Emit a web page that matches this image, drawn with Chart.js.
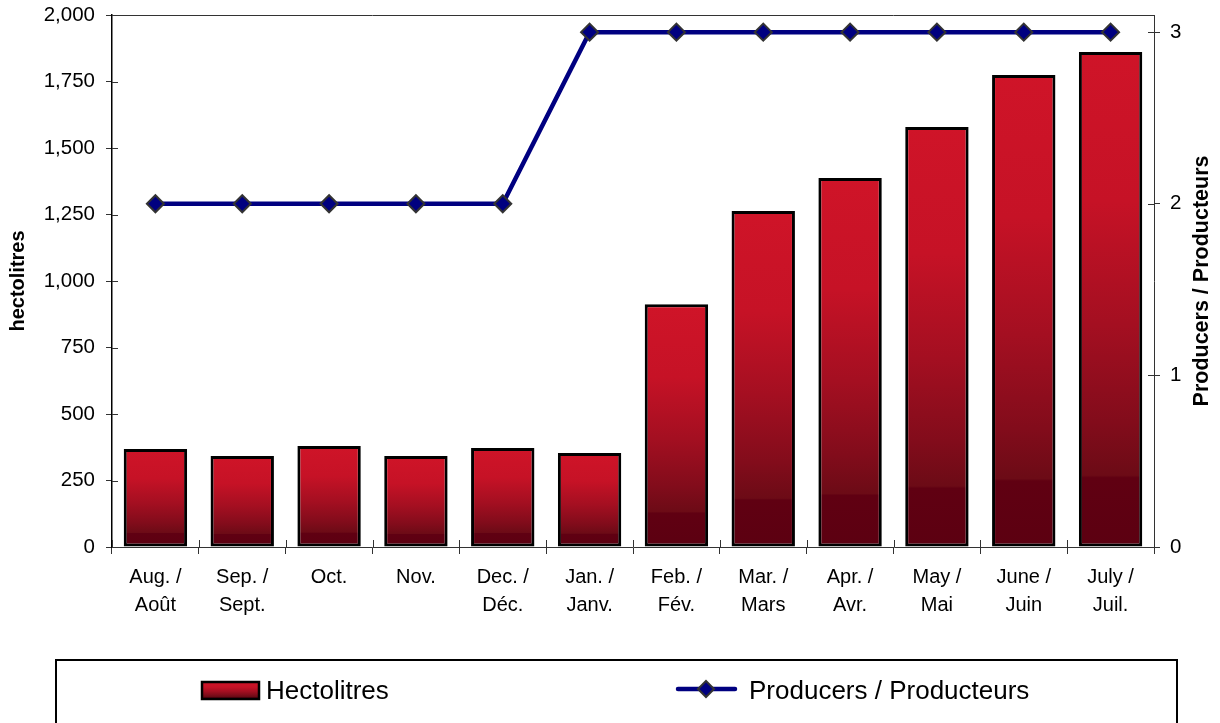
<!DOCTYPE html>
<html>
<head>
<meta charset="utf-8">
<script src="https://cdn.jsdelivr.net/npm/chart.js@4.4.1/dist/chart.umd.min.js"></script>
<style>
html, body { margin: 0; padding: 0; background: #fff; }
</style>
</head>
<body>
<canvas id="chart" width="1220" height="723"></canvas>
<script>
// data
var months = [["Aug. /", "Août"], ["Sep. /", "Sept."], ["Oct."], ["Nov."], ["Dec. /", "Déc."], ["Jan. /", "Janv."],
              ["Feb. /", "Fév."], ["Mar. /", "Mars"], ["Apr. /", "Avr."], ["May /", "Mai"], ["June /", "Juin"], ["July /", "Juil."]];
var hectolitres = [368, 342, 380, 342, 372, 353, 913, 1263, 1387, 1579, 1774, 1861];
var producers = [2, 2, 2, 2, 2, 3, 3, 3, 3, 3, 3, 3];
var hlTicks = [0, 250, 500, 750, 1000, 1250, 1500, 1750, 2000];
var prodTicks = [0, 1, 2, 3];

var FONT = '"Liberation Sans", Arial, sans-serif';

// excel-like red gradient, top bright to dark bottom
function redGradient(ctx, top, bottom) {
	var g = ctx.createLinearGradient(0, top, 0, bottom);
	g.addColorStop(0, '#CF1428');
	g.addColorStop(0.3, '#C61226');
	g.addColorStop(0.55, '#A40F21');
	g.addColorStop(0.75, '#820C1B');
	g.addColorStop(0.855, '#6C0B16');
	g.addColorStop(0.86, '#600012');
	g.addColorStop(1, '#5C0011');
	return g;
}

function barFill(context) {
	var chart = context.chart;
	var y = chart.scales.y;
	if (!chart.chartArea || !y || context.dataIndex === undefined) return '#C61226';
	var top = y.getPixelForValue(context.dataset.data[context.dataIndex]);
	var bottom = y.getPixelForValue(0);
	if (!isFinite(top) || bottom - top < 1) return '#C61226';
	return redGradient(chart.ctx, top, bottom);
}

function noPad(s) {
	s.paddingTop = 0; s.paddingBottom = 0; s.paddingLeft = 0; s.paddingRight = 0;
}

// tick stubs that cross the axis line, plus the top frame line
var frame = {
	id: 'frame',
	beforeDatasetsDraw: function(chart) {
		var ctx = chart.ctx, a = chart.chartArea;
		ctx.save();
		ctx.strokeStyle = '#333';
		ctx.lineWidth = 1;
		ctx.beginPath();
		ctx.moveTo(a.left, a.top + 0.5);
		ctx.lineTo(a.right, a.top + 0.5);
		chart.scales.y.ticks.forEach(function(t) {
			var p = Math.round(chart.scales.y.getPixelForValue(t.value)) + 0.5;
			ctx.moveTo(a.left, p); ctx.lineTo(a.left + 6, p);
		});
		chart.scales.y1.ticks.forEach(function(t) {
			var p = Math.round(chart.scales.y1.getPixelForValue(t.value)) + 0.5;
			ctx.moveTo(a.right - 6, p); ctx.lineTo(a.right, p);
		});
		var w = (a.right - a.left) / months.length;
		for (var i = 0; i <= months.length; i++) {
			var px = Math.round(a.left + i * w) + 0.5;
			ctx.moveTo(px, a.bottom - 7); ctx.lineTo(px, a.bottom);
		}
		ctx.stroke();
		ctx.restore();
	}
};

// right axis title (reads bottom to top) and the boxed legend
var extras = {
	id: 'extras',
	afterDraw: function(chart) {
		var ctx = chart.ctx, a = chart.chartArea;
		ctx.save();
		ctx.fillStyle = '#000';
		ctx.font = 'bold 21.5px ' + FONT;
		ctx.textAlign = 'center';
		ctx.textBaseline = 'middle';
		ctx.translate(1202, (a.top + a.bottom) / 2);
		ctx.rotate(-Math.PI / 2);
		ctx.fillText('Producers / Producteurs', 0, 0);
		ctx.restore();

		ctx.save();
		ctx.strokeStyle = '#000';
		ctx.lineWidth = 2;
		ctx.strokeRect(56, 660, 1121, 90);

		ctx.fillStyle = redGradient(ctx, 682, 699);
		ctx.fillRect(202, 682, 57, 17);
		ctx.lineWidth = 2.5;
		ctx.strokeRect(202, 682, 57, 17);

		ctx.fillStyle = '#000';
		ctx.font = '26px ' + FONT;
		ctx.textBaseline = 'alphabetic';
		ctx.fillText(chart.data.datasets[1].label, 266, 699);

		ctx.strokeStyle = '#000080';
		ctx.lineWidth = 4.5;
		ctx.lineCap = 'round';
		ctx.beginPath();
		ctx.moveTo(678, 689); ctx.lineTo(735, 689);
		ctx.stroke();
		ctx.beginPath();
		ctx.moveTo(706, 681); ctx.lineTo(714, 689); ctx.lineTo(706, 697); ctx.lineTo(698, 689); ctx.closePath();
		ctx.fillStyle = '#000080';
		ctx.fill();
		ctx.lineWidth = 2;
		ctx.strokeStyle = '#333';
		ctx.stroke();

		ctx.fillStyle = '#000';
		ctx.fillText(chart.data.datasets[0].label, 749, 699);
		ctx.restore();
	}
};

new Chart(document.getElementById('chart'), {
	type: 'bar',
	data: {
		labels: months,
		datasets: [{
			type: 'line',
			label: 'Producers / Producteurs',
			data: producers,
			yAxisID: 'y1',
			order: 0,
			borderColor: '#000080',
			borderWidth: 4.5,
			tension: 0,
			pointStyle: 'rectRot',
			pointRadius: 8.5,
			pointBorderWidth: 2,
			pointBorderColor: '#333333',
			pointBackgroundColor: '#000080'
		}, {
			type: 'bar',
			label: 'Hectolitres',
			data: hectolitres,
			yAxisID: 'y',
			order: 1,
			backgroundColor: barFill,
			borderColor: '#000',
			borderWidth: 3,
			borderSkipped: false,
			barPercentage: 0.73,
			categoryPercentage: 1
		}]
	},
	options: {
		responsive: false,
		animation: false,
		devicePixelRatio: 1,
		layout: { padding: { top: 15, bottom: 106, left: 0, right: 0 } },
		plugins: { legend: { display: false }, tooltip: { enabled: false } },
		scales: {
			x: {
				offset: true,
				afterFit: function(s) { s.height = 70; noPad(s); },
				grid: { display: true, offset: true, drawOnChartArea: false, drawTicks: true, tickLength: 7, color: '#333' },
				border: { display: true, color: '#333', width: 1 },
				ticks: { color: '#000', padding: 9, maxRotation: 0, autoSkip: false,
					font: { family: FONT, size: 20, lineHeight: 1.4 } }
			},
			y: {
				position: 'left',
				min: 0, max: 2000,
				afterFit: function(s) { s.width = 112; noPad(s); },
				afterBuildTicks: function(s) { s.ticks = hlTicks.map(function(v) { return { value: v }; }); },
				grid: { display: true, drawOnChartArea: false, drawTicks: true, tickLength: 6, color: '#333' },
				border: { display: true, color: '#000', width: 1.5 },
				title: { display: true, text: 'hectolitres', color: '#000', padding: { top: 6, bottom: 0 },
					font: { family: FONT, size: 20, weight: 'bold' } },
				ticks: { color: '#000', padding: 11, callback: function(v) { return v.toLocaleString('en-US'); },
					font: { family: FONT, size: 20.5 } }
			},
			y1: {
				position: 'right',
				min: 0, max: 3.1,
				afterFit: function(s) { s.width = 66; noPad(s); },
				afterBuildTicks: function(s) { s.ticks = prodTicks.map(function(v) { return { value: v }; }); },
				grid: { display: true, drawOnChartArea: false, drawTicks: true, tickLength: 6, color: '#333' },
				border: { display: true, color: '#333', width: 1 },
				ticks: { color: '#000', padding: 10, font: { family: FONT, size: 20.5 } }
			}
		}
	},
	plugins: [frame, extras]
});
</script>
</body>
</html>
